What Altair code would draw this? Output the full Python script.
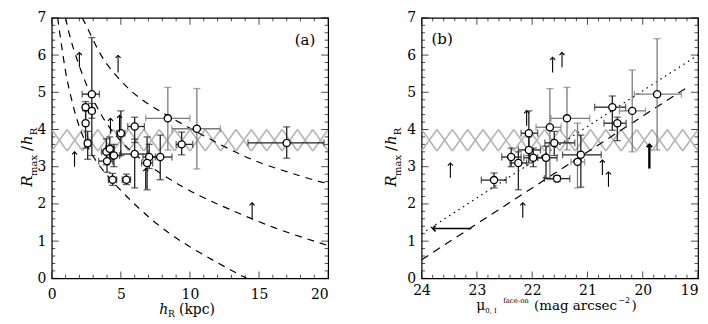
import altair as alt
import pandas as pd

FONT = "DejaVu Serif"
W, H = 278, 262

# ---------------- Panel (a) data ----------------
a_x   = [2.9, 2.45, 2.9, 2.45, 2.6, 5.0, 6.0, 8.4, 10.5, 9.4, 17.0, 7.85, 7.05, 6.0, 6.9, 3.95, 4.2, 4.0, 4.5, 4.4, 5.4]
a_y   = [4.95, 4.6, 4.5, 4.17, 3.63, 3.9, 4.08, 4.3, 4.02, 3.6, 3.64, 3.26, 3.26, 3.34, 3.1, 3.4, 3.48, 3.15, 3.3, 2.65, 2.65]
a_xlo = [2.2, 2.25, 2.7, 2.3, 2.4, 4.7, 5.5, 6.8, 8.7, 9.0, 14.2, 7.0, 6.6, 5.0, 6.5, 3.6, 3.9, 3.4, 4.2, 4.1, 5.1]
a_xhi = [3.45, 2.65, 3.1, 2.6, 2.8, 5.3, 6.7, 10.0, 12.2, 10.2, 19.7, 8.7, 7.5, 7.0, 7.3, 4.3, 4.5, 4.4, 4.9, 4.7, 5.7]
a_ylo = [3.3, 4.2, 4.3, 3.5, 3.2, 3.3, 3.65, 3.45, 2.94, 3.32, 3.23, 2.65, 2.95, 2.43, 2.38, 3.05, 3.2, 2.85, 3.0, 2.5, 2.52]
a_yhi = [6.47, 4.75, 4.7, 4.5, 3.95, 4.5, 4.33, 5.13, 5.1, 3.93, 4.07, 3.85, 3.6, 3.74, 3.8, 3.75, 3.8, 3.45, 3.6, 2.82, 2.8]
a_grey = [0, 0, 0, 0, 0, 0, 0, 1, 1, 0, 0, 0, 0, 0, 0, 0, 0, 0, 0, 0, 0]

a_arr_x    = [1.65, 2.0, 4.8, 14.5, 4.25, 4.9, 6.8]
a_arr_base = [3.0, 5.67, 5.53, 1.58, 3.9, 3.93, 2.4]
a_arr_tip  = [3.4, 6.07, 5.99, 2.03, 4.3, 4.38, 2.95]

# dashed model curves in (a)
cA_x = [0.43, 0.58, 0.8, 1.05, 1.5, 2.0, 3.0, 4.7, 6.5, 8.7, 11.9, 14.1]
cA_y = [7.0, 6.58, 6.04, 5.4, 4.7, 4.0, 3.2, 2.46, 1.8, 1.12, 0.43, 0.0]
cB_x = [1.0, 1.3, 1.65, 2.37, 3.4, 5.0, 8.0, 10.9, 12.6, 16.0, 20.0]
cB_y = [7.0, 6.5, 6.07, 5.3, 4.45, 3.6, 2.75, 2.17, 1.9, 1.35, 0.88]
cC_x = [2.2, 2.5, 3.45, 4.17, 5.6, 7.05, 9.9, 14.0, 16.6, 19.3, 20.0]
cC_y = [7.0, 6.8, 6.04, 5.65, 5.05, 4.65, 4.05, 3.23, 2.91, 2.6, 2.55]

# ---------------- Panel (b) data ----------------
b_x   = [19.74, 20.55, 20.19, 20.46, 21.37, 21.68, 21.6, 22.06, 22.06, 22.38, 22.25, 21.98, 21.75, 21.12, 21.18, 22.69, 21.55]
b_y   = [4.95, 4.6, 4.5, 4.17, 4.3, 4.06, 3.64, 3.9, 3.45, 3.26, 3.1, 3.24, 3.24, 3.32, 3.13, 2.64, 2.68]
b_xlo = [19.3, 20.31, 19.95, 20.3, 20.96, 21.48, 21.23, 21.9, 21.85, 22.2, 22.1, 21.8, 21.55, 20.75, 21.05, 22.47, 21.32]
b_xhi = [20.15, 20.87, 20.42, 20.7, 21.66, 21.93, 21.77, 22.2, 22.25, 22.55, 22.4, 22.15, 21.9, 21.45, 21.3, 22.92, 21.78]
b_ylo = [3.45, 3.98, 3.4, 3.7, 3.45, 2.65, 3.3, 3.3, 3.1, 3.0, 2.38, 3.0, 2.7, 2.45, 2.43, 2.43, 2.6]
b_yhi = [6.44, 4.9, 5.6, 4.33, 5.13, 5.1, 3.95, 4.5, 3.8, 3.5, 3.4, 3.5, 3.55, 3.85, 4.17, 2.83, 2.76]
b_grey = [1, 0, 1, 0, 1, 1, 0, 0, 0, 0, 0, 0, 0, 0, 1, 0, 0]

b_arr_x    = [21.63, 21.46, 23.48, 22.17, 20.73, 20.62, 22.1]
b_arr_base = [5.53, 5.67, 2.7, 1.63, 2.78, 2.46, 4.1]
b_arr_tip  = [5.94, 6.07, 3.1, 2.03, 3.18, 2.86, 4.5]
b_bold_x, b_bold_base, b_bold_tip = [19.88], [2.95], [3.6]
b_left_y, b_left_from, b_left_to = [1.34], [23.1], [23.8]

dot_x, dot_y = [24.0, 19.0], [1.2, 6.0]
dash_x, dash_y = [24.0, 19.2], [0.5, 5.13]

band_lo, band_hi = 3.42, 4.0

ARROW_UP = "M -1 1 L 0 0 L 1 1"
ARROW_LEFT = "M 1 -1 L 0 0 L 1 1"


def txt(s, x, y, size=14, style="normal", angle=0, align="left"):
    return alt.Chart(pd.DataFrame({"t": [s]})).mark_text(
        text=s, font=FONT, fontSize=size, fontStyle=style, angle=angle,
        align=align, baseline="alphabetic", color="black"
    ).encode(x=alt.value(x), y=alt.value(y))


def panel(xs, ys, xlo, xhi, ylo, yhi, grey, ax, abase, atip, xdom, xrev,
          xmajor, xminor, n_hatch, last_label, xpad, extra):
    xsc = alt.Scale(domain=xdom, reverse=xrev, nice=False, zero=False)
    ysc = alt.Scale(domain=[0, 7], nice=False, zero=False)
    xaxis = alt.Axis(values=xmajor, format="d", ticks=False, domain=False, grid=False,
                     labelFont=FONT, labelFontSize=14, labelColor="black",
                     labelPadding=xpad, title=None, labelFlush=False,
                     labelAlign={"condition": {"test": f"datum.value == {last_label}", "value": "right"},
                                 "value": "center"})
    yaxis = alt.Axis(values=list(range(8)), format="d", ticks=False, domain=False, grid=False,
                     labelFont=FONT, labelFontSize=14, labelColor="black",
                     labelPadding=6, title=None, labelFlush=False)
    X = lambda f: alt.X(f, type="quantitative", scale=xsc, axis=xaxis)
    Y = lambda f: alt.Y(f, type="quantitative", scale=ysc, axis=yaxis)

    # cross-hatched band, kept inside the frame
    lo, hi = min(xdom), max(xdom)
    step = (hi - lo) / n_hatch
    hx = [lo + i * step for i in range(n_hatch)]
    hd = pd.DataFrame({
        "x1": hx + hx,
        "x2": [h + step for h in hx] * 2,
        "y1": [band_lo] * n_hatch + [band_hi] * n_hatch,
        "y2": [band_hi] * n_hatch + [band_lo] * n_hatch,
    })
    hatch = alt.Chart(hd).mark_rule(color="#b5b5b5", strokeWidth=1.6, clip=True).encode(
        x=X("x1"), x2="x2", y=Y("y1"), y2="y2")

    d = pd.DataFrame({"x": xs, "y": ys, "xlo": xlo, "xhi": xhi, "ylo": ylo, "yhi": yhi,
                      "c": ["#7a7a7a" if g else "#222222" for g in grey]})
    col = alt.Color("c:N", scale=None)
    vbar = alt.Chart(d).mark_rule(strokeWidth=1.3).encode(x=X("x"), y=Y("ylo"), y2="yhi", color=col)
    hbar = alt.Chart(d).mark_rule(strokeWidth=1.3).encode(x=X("xlo"), x2="xhi", y=Y("y"), color=col)
    cap1 = alt.Chart(d).mark_tick(orient="horizontal", size=7, thickness=1.3).encode(x=X("x"), y=Y("ylo"), color=col)
    cap2 = alt.Chart(d).mark_tick(orient="horizontal", size=7, thickness=1.3).encode(x=X("x"), y=Y("yhi"), color=col)
    cap3 = alt.Chart(d).mark_tick(orient="vertical", size=7, thickness=1.3).encode(x=X("xlo"), y=Y("y"), color=col)
    cap4 = alt.Chart(d).mark_tick(orient="vertical", size=7, thickness=1.3).encode(x=X("xhi"), y=Y("y"), color=col)
    pts = alt.Chart(d).mark_point(shape="circle", filled=True, fill="white", stroke="black",
                                  strokeWidth=1.3, size=52, opacity=1).encode(x=X("x"), y=Y("y"))

    ad = pd.DataFrame({"x": ax, "b": abase, "t": atip})
    shaft = alt.Chart(ad).mark_rule(color="black", strokeWidth=1.1).encode(x=X("x"), y=Y("b"), y2="t")
    head = alt.Chart(ad).mark_point(shape=ARROW_UP, filled=False, stroke="black", strokeWidth=1.1,
                                    size=26, opacity=1).encode(x=X("x"), y=Y("t"))

    # frame ticks (inward, all four sides)
    tk = []
    for vals, L in ((xmajor, 7), (xminor, 3.5)):
        td = pd.DataFrame({"v": vals})
        tk.append(alt.Chart(td).mark_tick(orient="vertical", size=L, thickness=1, color="black")
                  .encode(x=X("v"), y=alt.value(H - L / 2)))
        tk.append(alt.Chart(td).mark_tick(orient="vertical", size=L, thickness=1, color="black")
                  .encode(x=X("v"), y=alt.value(L / 2)))
    ymaj = list(range(8))
    ymin = [round(i * 0.2, 1) for i in range(36) if i % 5]
    for vals, L in ((ymaj, 7), (ymin, 3.5)):
        td = pd.DataFrame({"v": vals})
        tk.append(alt.Chart(td).mark_tick(orient="horizontal", size=L, thickness=1, color="black")
                  .encode(y=Y("v"), x=alt.value(L / 2)))
        tk.append(alt.Chart(td).mark_tick(orient="horizontal", size=L, thickness=1, color="black")
                  .encode(y=Y("v"), x=alt.value(W - L / 2)))

    lines = extra(X, Y)
    return [hatch] + lines + [vbar, hbar, cap1, cap2, cap3, cap4, pts, shaft, head] + tk


def extra_a(X, Y):
    rows = []
    for name, xx, yy in (("A", cA_x, cA_y), ("B", cB_x, cB_y), ("C", cC_x, cC_y)):
        for a, b in zip(xx, yy):
            rows.append({"k": name, "x": a, "y": b})
    cd = pd.DataFrame(rows)
    curves = alt.Chart(cd).mark_line(color="black", strokeWidth=1.2, strokeDash=[7, 6],
                                     interpolate="basis", clip=True).encode(
        x=X("x"), y=Y("y"), detail="k:N")
    return [curves]


def extra_b(X, Y):
    dd = pd.DataFrame({"x": dot_x, "y": dot_y})
    dotted = alt.Chart(dd).mark_line(color="black", strokeWidth=1.2, strokeDash=[1.5, 4], clip=True).encode(
        x=X("x"), y=Y("y"))
    sd = pd.DataFrame({"x": dash_x, "y": dash_y})
    dashed = alt.Chart(sd).mark_line(color="black", strokeWidth=1.2, strokeDash=[8, 6], clip=True).encode(
        x=X("x"), y=Y("y"))
    bd = pd.DataFrame({"x": b_bold_x, "b": b_bold_base, "t": b_bold_tip})
    bshaft = alt.Chart(bd).mark_rule(color="black", strokeWidth=2.4).encode(x=X("x"), y=Y("b"), y2="t")
    bhead = alt.Chart(bd).mark_point(shape=ARROW_UP, filled=False, stroke="black", strokeWidth=2,
                                     size=30, opacity=1).encode(x=X("x"), y=Y("t"))
    ld = pd.DataFrame({"y": b_left_y, "f": b_left_from, "t": b_left_to})
    lshaft = alt.Chart(ld).mark_rule(color="black", strokeWidth=1.6).encode(x=X("f"), x2="t", y=Y("y"))
    lhead = alt.Chart(ld).mark_point(shape=ARROW_LEFT, filled=False, stroke="black", strokeWidth=1.6,
                                     size=34, opacity=1).encode(x=X("t"), y=Y("y"))
    return [dotted, dashed, bshaft, bhead, lshaft, lhead]


layers_a = panel(a_x, a_y, a_xlo, a_xhi, a_ylo, a_yhi, a_grey, a_arr_x, a_arr_base, a_arr_tip,
                 [0, 20], False, [0, 5, 10, 15, 20], [i for i in range(21) if i % 5], 18, 20, 9, extra_a)
layers_a += [
    txt("(a)", 265, 27, size=15, align="right"),
    # x title: h_R (kpc)
    txt("h", 108, 298, style="italic"),
    txt("R", 117, 301, size=9),
    txt("(kpc)", 128, 298),
    # y title: R_max / h_R
    txt("R", -20, 170, size=15, style="italic", angle=270),
    txt("max", -15, 159, size=10, angle=270),
    txt("/", -20, 134, size=15, angle=270),
    txt("h", -20, 128, size=15, style="italic", angle=270),
    txt("R", -15, 118, size=10, angle=270),
]
pa = alt.layer(*layers_a).properties(width=W, height=H)

layers_b = panel(b_x, b_y, b_xlo, b_xhi, b_ylo, b_yhi, b_grey, b_arr_x, b_arr_base, b_arr_tip,
                 [19, 24], True, [19, 20, 21, 22, 23, 24],
                 [round(19 + i * 0.2, 1) for i in range(26) if i % 5], 18, 19, 5, extra_b)
layers_b += [
    txt("(b)", 10, 26, size=15),
    # x title: mu_{0,I}^{face-on} (mag arcsec^-2)
    txt("\u03bc", 55, 294),
    txt("0, I", 64, 297, size=7),
    txt("face-on", 82, 287, size=7),
    txt("(mag arcsec", 113, 294, size=13.5),
    txt("\u22122", 198, 287, size=8),
    txt(")", 211, 294, size=13.5),
    # y title
    txt("R", -26, 170, size=15, style="italic", angle=270),
    txt("max", -21, 159, size=10, angle=270),
    txt("/", -26, 134, size=15, angle=270),
    txt("h", -26, 128, size=15, style="italic", angle=270),
    txt("R", -21, 118, size=10, angle=270),
]
pb = alt.layer(*layers_b).properties(width=W, height=H)

chart = alt.hconcat(pa, pb, spacing=53).properties(
    padding={"left": 11, "top": 1, "right": 0, "bottom": 0}
).configure_view(stroke="black", strokeWidth=1.2)

chart.save("out.html", embed_options={"renderer": "svg", "actions": False})
